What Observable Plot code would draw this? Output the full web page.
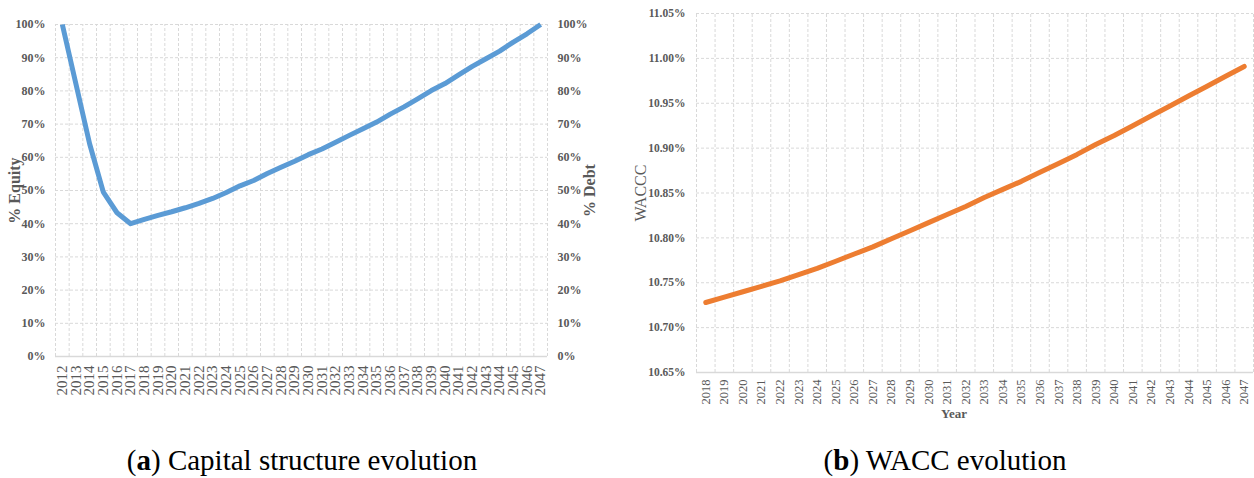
<!DOCTYPE html>
<html>
<head>
<meta charset="utf-8">
<script src="https://cdn.jsdelivr.net/npm/d3@7"></script>
<script src="https://cdn.jsdelivr.net/npm/@observablehq/plot@0.6"></script>
<style>
  html, body { margin: 0; padding: 0; background: white; }
  #wrap { position: relative; width: 1254px; height: 478px; overflow: hidden; background: white; }
  #left { position: absolute; left: 0; top: 0; }
  #right { position: absolute; left: 620px; top: 0; }
  .cap { position: absolute; top: 444px; font-family: 'Liberation Serif', serif; font-size: 29px; color: #000; text-align: center; white-space: nowrap; }
</style>
</head>
<body>
<div id="wrap">
  <div id="left"></div>
  <div id="right"></div>
  <div class="cap" style="left:52px; width:500px;">(<b>a</b>) Capital structure evolution</div>
  <div class="cap" style="left:695px; width:500px;">(<b>b</b>) WACC evolution</div>
</div>
<script>
// ---- Data: capital structure (left) ----
const yearsA = [2012,2013,2014,2015,2016,2017,2018,2019,2020,2021,2022,2023,2024,2025,2026,2027,2028,2029,2030,2031,2032,2033,2034,2035,2036,2037,2038,2039,2040,2041,2042,2043,2044,2045,2046,2047];
const equityPct = [100,82,64,49.5,43.3,40,41.3,42.5,43.6,44.8,46.1,47.6,49.4,51.4,53,55.1,57,58.8,60.8,62.5,64.5,66.6,68.6,70.6,73,75.2,77.6,80.1,82.2,84.8,87.4,89.7,92,94.7,97.2,100];
const pctTicks = [0,10,20,30,40,50,60,70,80,90,100];

// ---- Data: WACC (right) ----
const yearsB = [2018,2019,2020,2021,2022,2023,2024,2025,2026,2027,2028,2029,2030,2031,2032,2033,2034,2035,2036,2037,2038,2039,2040,2041,2042,2043,2044,2045,2046,2047];
const waccPct = [10.728,10.734,10.740,10.746,10.752,10.759,10.766,10.774,10.782,10.790,10.799,10.808,10.817,10.826,10.835,10.845,10.854,10.863,10.873,10.883,10.893,10.904,10.914,10.925,10.936,10.947,10.958,10.969,10.980,10.991];
const waccTicks = [10.65,10.70,10.75,10.80,10.85,10.90,10.95,11.00,11.05];

const FONT = "'Liberation Serif', 'Times New Roman', serif";
const TXT = "#595959";
const GRID = "#d9d9d9";

// ---------- Left chart ----------
const dataA = yearsA.map((y, i) => ({year: y, equity: equityPct[i]}));
const boundsA = yearsA.map(y => y - 0.5).concat([yearsA[yearsA.length - 1] + 0.5]);

const left = Plot.plot({
  width: 620, height: 430,
  marginLeft: 55, marginRight: 73, marginTop: 24, marginBottom: 74,
  style: {fontFamily: FONT, background: "white", color: TXT},
  x: {type: "linear", domain: [yearsA[0] - 0.5, yearsA[yearsA.length - 1] + 0.5]},
  y: {domain: [0, 100]},
  marks: [
    Plot.ruleY(pctTicks.filter(d => d > 0), {stroke: GRID, strokeDasharray: "3,2", strokeWidth: 1}),
    Plot.ruleX(boundsA, {y1: 0, y2: 100, stroke: GRID, strokeDasharray: "3,2", strokeWidth: 1}),
    Plot.ruleY([0], {stroke: GRID, strokeWidth: 1.5}),
    Plot.line(dataA, {x: "year", y: "equity", stroke: "#5B9BD5", strokeWidth: 5, strokeLinejoin: "round", strokeLinecap: "butt"}),
    Plot.axisY({anchor: "left", ticks: pctTicks, tickFormat: d => d + "%", tickSize: 0, tickPadding: 10, fontSize: 12, fontWeight: "bold", fill: TXT, label: null}),
    Plot.axisY({anchor: "right", ticks: pctTicks, tickFormat: d => d + "%", tickSize: 0, tickPadding: 10, fontSize: 12, fontWeight: "bold", fill: TXT, label: null}),
    Plot.axisX({anchor: "bottom", ticks: yearsA, tickFormat: d => String(d), tickRotate: -90, tickSize: 0, tickPadding: 9, fontSize: 15, fill: TXT, label: null}),
    Plot.text(["% Equity"], {frameAnchor: "left", textAnchor: "middle", dx: -41, rotate: -90, fontSize: 16, fontWeight: "bold", fill: TXT}),
    Plot.text(["% Debt"], {frameAnchor: "right", textAnchor: "middle", dx: 42, rotate: -90, fontSize: 16, fontWeight: "bold", fill: TXT})
  ]
});
document.getElementById("left").appendChild(left);

// ---------- Right chart ----------
const dataB = yearsB.map((y, i) => ({year: y, wacc: waccPct[i]}));
const boundsB = yearsB.map(y => y - 0.5).concat([yearsB[yearsB.length - 1] + 0.5]);

const right = Plot.plot({
  width: 634, height: 430,
  marginLeft: 76, marginRight: 1, marginTop: 13, marginBottom: 58,
  style: {fontFamily: FONT, background: "white", color: TXT},
  x: {type: "linear", domain: [yearsB[0] - 0.5, yearsB[yearsB.length - 1] + 0.5]},
  y: {domain: [waccTicks[0], waccTicks[waccTicks.length - 1]]},
  marks: [
    Plot.ruleY(waccTicks.slice(1), {stroke: GRID, strokeDasharray: "3,2", strokeWidth: 1}),
    Plot.ruleX(boundsB, {y1: waccTicks[0], y2: waccTicks[waccTicks.length - 1], stroke: GRID, strokeDasharray: "3,2", strokeWidth: 1}),
    Plot.ruleY([waccTicks[0]], {stroke: GRID, strokeWidth: 1.5}),
    Plot.line(dataB, {x: "year", y: "wacc", stroke: "#ED7D31", strokeWidth: 5, strokeLinejoin: "round", strokeLinecap: "round"}),
    Plot.axisY({anchor: "left", ticks: waccTicks, tickFormat: d => d.toFixed(2) + "%", tickSize: 0, tickPadding: 11, fontSize: 11.5, fontWeight: "bold", fill: TXT, label: null}),
    Plot.axisX({anchor: "bottom", ticks: yearsB, tickFormat: d => String(d), tickRotate: -90, tickSize: 0, tickPadding: 7, fontSize: 12.5, fill: TXT, label: null}),
    Plot.text(["WACCC"], {frameAnchor: "left", textAnchor: "middle", dx: -56, rotate: -90, fontSize: 16, fill: TXT}),
    Plot.text(["Year"], {frameAnchor: "bottom", textAnchor: "middle", dx: -21, dy: 45, fontSize: 13, fontWeight: "bold", fill: TXT})
  ]
});
document.getElementById("right").appendChild(right);
</script>
</body>
</html>
